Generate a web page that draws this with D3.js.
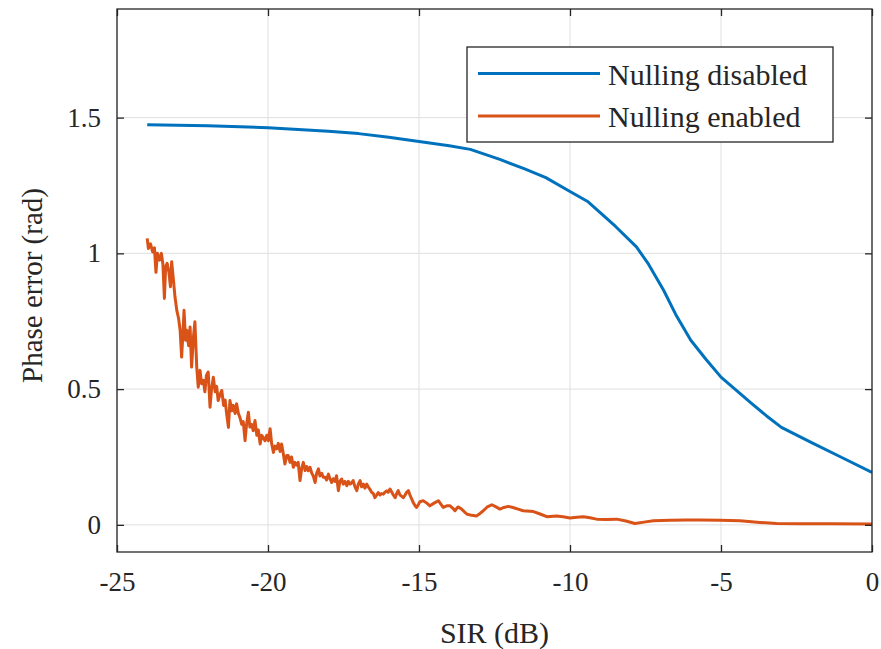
<!DOCTYPE html>
<html>
<head>
<meta charset="utf-8">
<script src="https://cdn.jsdelivr.net/npm/d3@7"></script>
<style>
  html, body { margin: 0; padding: 0; background: #ffffff; }
  svg { display: block; }
  text { font-family: "Liberation Serif", "Times New Roman", Times, serif; fill: #262626; }
</style>
</head>
<body>
<svg id="chart" width="881" height="649"></svg>
<script>
// ---------- Data ----------
const xTicks = [-25, -20, -15, -10, -5, 0];
const yTicks = [0, 0.5, 1, 1.5];
const xTickLabels = ["-25", "-20", "-15", "-10", "-5", "0"];
const yTickLabels = ["0", "0.5", "1", "1.5"];
const seriesNames = ["Nulling disabled", "Nulling enabled"];

const disabledSIR = [-24, -22, -20, -18, -17, -16, -15, -14, -13.3, -12.3, -11.5, -10.8, -10, -9.4, -8.5, -7.8, -7.4, -6.9, -6.5, -6.0, -5.5, -5.0, -4.5, -4.0, -3.5, -3.0, -2.0, -1.0, 0];
const disabledErr = [1.474, 1.470, 1.463, 1.450, 1.441, 1.428, 1.412, 1.396, 1.383, 1.345, 1.311, 1.279, 1.228, 1.190, 1.100, 1.024, 0.960, 0.864, 0.775, 0.680, 0.610, 0.544, 0.496, 0.448, 0.402, 0.359, 0.303, 0.248, 0.193];

const enabledSIR = [-24.00, -23.96, -23.89, -23.82, -23.76, -23.71, -23.66, -23.59, -23.53, -23.48, -23.43, -23.39, -23.34, -23.28, -23.23, -23.19, -23.13, -23.08, -23.02, -22.96, -22.91, -22.86, -22.81, -22.78, -22.73, -22.69, -22.63, -22.58, -22.53, -22.47, -22.42, -22.36, -22.31, -22.25, -22.20, -22.14, -22.09, -22.04, -21.98, -21.92, -21.87, -21.81, -21.75, -21.70, -21.65, -21.59, -21.53, -21.47, -21.42, -21.37, -21.31, -21.26, -21.20, -21.15, -21.09, -21.04, -20.98, -20.93, -20.87, -20.82, -20.76, -20.71, -20.65, -20.60, -20.54, -20.49, -20.43, -20.37, -20.32, -20.26, -20.21, -20.16, -20.10, -20.04, -19.99, -19.93, -19.88, -19.82, -19.77, -19.71, -19.66, -19.60, -19.55, -19.49, -19.44, -19.38, -19.33, -19.27, -19.22, -19.16, -19.11, -19.05, -19.00, -18.94, -18.88, -18.83, -18.77, -18.72, -18.67, -18.61, -18.55, -18.50, -18.44, -18.39, -18.33, -18.28, -18.22, -18.17, -18.11, -18.06, -18.00, -17.95, -17.89, -17.84, -17.78, -17.73, -17.67, -17.62, -17.56, -17.51, -17.45, -17.39, -17.34, -17.28, -17.23, -17.18, -17.12, -17.06, -17.01, -16.95, -16.90, -16.84, -16.79, -16.73, -16.68, -16.62, -16.57, -16.51, -16.46, -16.40, -16.35, -16.29, -16.24, -16.18, -16.13, -16.07, -16.02, -15.96, -15.90, -15.85, -15.79, -15.74, -15.69, -15.63, -15.57, -15.52, -15.46, -15.41, -15.35, -15.30, -15.24, -15.19, -15.13, -15.08, -15.02, -14.97, -14.86, -14.74, -14.64, -14.50, -14.36, -14.27, -14.20, -14.08, -13.97, -13.87, -13.81, -13.71, -13.61, -13.42, -13.26, -13.09, -12.98, -12.87, -12.75, -12.59, -12.48, -12.32, -12.19, -12.04, -11.89, -11.72, -11.55, -11.21, -10.99, -10.77, -10.44, -10.23, -10.00, -9.77, -9.56, -9.34, -9.12, -8.81, -8.45, -8.15, -7.85, -7.55, -7.24, -6.69, -6.14, -5.70, -5.03, -4.37, -3.71, -3.16, -2.38, -1.39, 0];
const enabledErr = [1.055, 1.018, 1.035, 1.005, 1.020, 0.930, 1.000, 0.975, 1.000, 0.960, 0.834, 0.950, 0.963, 0.930, 0.877, 0.969, 0.900, 0.840, 0.790, 0.760, 0.717, 0.618, 0.720, 0.790, 0.680, 0.717, 0.660, 0.729, 0.581, 0.690, 0.748, 0.581, 0.507, 0.569, 0.520, 0.532, 0.490, 0.550, 0.563, 0.433, 0.500, 0.544, 0.490, 0.510, 0.458, 0.480, 0.495, 0.440, 0.460, 0.410, 0.359, 0.458, 0.420, 0.440, 0.410, 0.446, 0.410, 0.396, 0.370, 0.380, 0.310, 0.370, 0.415, 0.360, 0.370, 0.347, 0.384, 0.330, 0.350, 0.298, 0.330, 0.322, 0.310, 0.330, 0.310, 0.354, 0.300, 0.267, 0.290, 0.280, 0.300, 0.270, 0.298, 0.260, 0.224, 0.255, 0.255, 0.230, 0.250, 0.212, 0.230, 0.220, 0.230, 0.163, 0.210, 0.230, 0.200, 0.215, 0.199, 0.212, 0.190, 0.180, 0.156, 0.190, 0.206, 0.180, 0.190, 0.175, 0.175, 0.165, 0.187, 0.170, 0.156, 0.170, 0.160, 0.181, 0.126, 0.160, 0.169, 0.150, 0.160, 0.144, 0.160, 0.150, 0.155, 0.163, 0.140, 0.126, 0.150, 0.163, 0.140, 0.150, 0.135, 0.150, 0.140, 0.130, 0.120, 0.115, 0.100, 0.110, 0.119, 0.110, 0.115, 0.113, 0.120, 0.125, 0.120, 0.132, 0.120, 0.110, 0.100, 0.115, 0.126, 0.110, 0.105, 0.100, 0.110, 0.120, 0.126, 0.110, 0.095, 0.082, 0.070, 0.064, 0.075, 0.085, 0.089, 0.080, 0.070, 0.080, 0.089, 0.075, 0.064, 0.070, 0.070, 0.060, 0.052, 0.066, 0.060, 0.040, 0.035, 0.033, 0.042, 0.052, 0.065, 0.074, 0.068, 0.058, 0.064, 0.068, 0.064, 0.058, 0.052, 0.049, 0.040, 0.030, 0.033, 0.030, 0.025, 0.028, 0.030, 0.026, 0.021, 0.020, 0.021, 0.014, 0.005, 0.010, 0.015, 0.017, 0.018, 0.018, 0.017, 0.015, 0.009, 0.005, 0.004, 0.004, 0.003];

const seriesColors = ["#0072BD", "#D95319"];

// ---------- Layout ----------
const FONT = '"Liberation Serif", "Times New Roman", Times, serif';
const svg = d3.select("#chart");
const plot = { left: 117, right: 872, top: 9, bottom: 552 };

const x = d3.scaleLinear().domain([-25, 0]).range([plot.left, plot.right]);
const y = d3.scaleLinear().domain([-0.1, 1.9]).range([plot.bottom, plot.top]);

const axisColor = "#262626";
const tickLen = 7;

// Grid
const grid = svg.append("g");
grid.selectAll("line.gx").data(xTicks).enter().append("line")
  .attr("x1", d => x(d)).attr("x2", d => x(d))
  .attr("y1", plot.top).attr("y2", plot.bottom)
  .attr("stroke", "#dfdfdf").attr("stroke-width", 1);
grid.selectAll("line.gy").data(yTicks).enter().append("line")
  .attr("x1", plot.left).attr("x2", plot.right)
  .attr("y1", d => y(d)).attr("y2", d => y(d))
  .attr("stroke", "#dfdfdf").attr("stroke-width", 1);

// Lines
const line = d3.line().x(d => x(d[0])).y(d => y(d[1]));
const disabledPts = disabledSIR.map((s, i) => [s, disabledErr[i]]);
const enabledPts = enabledSIR.map((s, i) => [s, enabledErr[i]]);

svg.append("clipPath").attr("id", "clip").append("rect")
  .attr("x", plot.left).attr("y", plot.top)
  .attr("width", plot.right - plot.left).attr("height", plot.bottom - plot.top);

const lines = svg.append("g").attr("clip-path", "url(#clip)");
lines.append("path").datum(disabledPts)
  .attr("d", line).attr("fill", "none")
  .attr("stroke", seriesColors[0]).attr("stroke-width", 3)
  .attr("stroke-linejoin", "round");
lines.append("path").datum(enabledPts)
  .attr("d", line).attr("fill", "none")
  .attr("stroke", seriesColors[1]).attr("stroke-width", 3)
  .attr("stroke-linejoin", "round");

// Axes (ticks inward) using d3 axes
const xAxisB = d3.axisBottom(x).tickValues(xTicks).tickFormat((d, i) => xTickLabels[i])
  .tickSizeInner(-tickLen).tickSizeOuter(0).tickPadding(20);
const xAxisT = d3.axisTop(x).tickValues(xTicks).tickFormat("")
  .tickSizeInner(-tickLen).tickSizeOuter(0);
const yAxisL = d3.axisLeft(y).tickValues(yTicks).tickFormat((d, i) => yTickLabels[i])
  .tickSizeInner(-tickLen).tickSizeOuter(0).tickPadding(16);
const yAxisR = d3.axisRight(y).tickValues(yTicks).tickFormat("")
  .tickSizeInner(-tickLen).tickSizeOuter(0);

function styleAxis(g) {
  g.attr("font-family", FONT);
  g.select(".domain").remove();
  g.selectAll(".tick line").attr("stroke", axisColor).attr("stroke-width", 1.3);
  g.selectAll(".tick text").attr("fill", axisColor)
    .style("font-family", FONT)
    .style("font-size", "27px");
}

svg.append("g").attr("transform", `translate(0,${plot.bottom})`).call(xAxisB).call(styleAxis);
svg.append("g").attr("transform", `translate(0,${plot.top})`).call(xAxisT).call(styleAxis);
svg.append("g").attr("transform", `translate(${plot.left},0)`).call(yAxisL).call(styleAxis);
svg.append("g").attr("transform", `translate(${plot.right},0)`).call(yAxisR).call(styleAxis);

// Box
svg.append("rect")
  .attr("x", plot.left).attr("y", plot.top)
  .attr("width", plot.right - plot.left).attr("height", plot.bottom - plot.top)
  .attr("fill", "none").attr("stroke", axisColor).attr("stroke-width", 1.3);

// Axis labels
svg.append("text")
  .attr("x", (plot.left + plot.right) / 2).attr("y", 643)
  .attr("text-anchor", "middle")
  .style("font-family", FONT)
  .style("font-size", "30px")
  .text("SIR (dB)");
svg.append("text")
  .attr("transform", `translate(42,${(plot.top + plot.bottom) / 2 + 5}) rotate(-90)`)
  .attr("text-anchor", "middle")
  .style("font-family", FONT)
  .style("font-size", "29px")
  .text("Phase error (rad)");

// Legend
const leg = svg.append("g");
leg.append("rect")
  .attr("x", 467).attr("y", 47).attr("width", 366).attr("height", 95)
  .attr("fill", "#ffffff").attr("stroke", axisColor).attr("stroke-width", 1.3);
const legRows = [73.5, 116];
seriesNames.forEach((name, i) => {
  leg.append("line")
    .attr("x1", 478).attr("x2", 600)
    .attr("y1", legRows[i]).attr("y2", legRows[i])
    .attr("stroke", seriesColors[i]).attr("stroke-width", 3);
  leg.append("text")
    .attr("x", 608).attr("y", legRows[i] + 11)
    .style("font-family", FONT)
    .style("font-size", "30px")
    .text(name);
});
</script>
</body>
</html>
